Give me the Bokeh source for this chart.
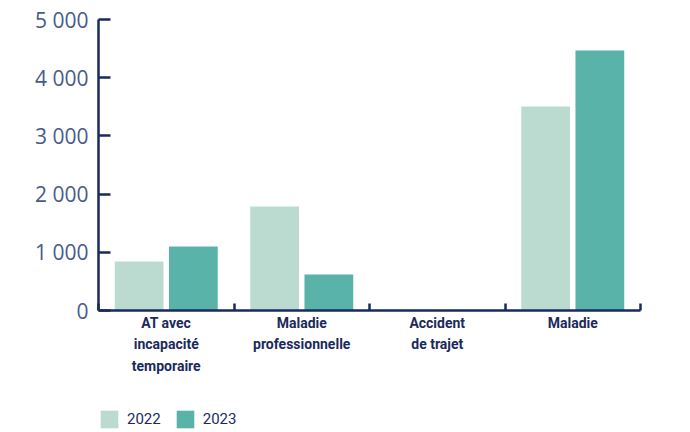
from bokeh.plotting import figure
from bokeh.layouts import column
from bokeh.models import (Range1d, FixedTicker, ColumnDataSource, Legend, LegendItem)
from bokeh.transform import dodge
from bokeh.embed import file_html
from bokeh.resources import INLINE

categories = ["AT avec\nincapacité\ntemporaire", "Maladie\nprofessionnelle",
              "Accident\nde trajet", "Maladie"]
values_2022 = [842, 1787, 12, 3505]
values_2023 = [1100, 619, 9, 4467]
y_ticks = [0, 1000, 2000, 3000, 4000, 5000]
y_tick_labels = ["0", "1 000", "2 000", "3 000", "4 000", "5 000"]
series_names = ["2022", "2023"]
colors = ["#BCDBD0", "#5AB3A8"]

NAVY = "#1b2a5c"
centers = [i + 0.5 for i in range(len(categories))]
bounds = list(range(len(categories) + 1))

src = ColumnDataSource(dict(x=centers, v2022=values_2022, v2023=values_2023))

p = figure(width=674, height=400, output_backend="svg", toolbar_location=None,
           x_range=Range1d(0, len(categories)), y_range=Range1d(0, 5000),
           min_border_left=98, min_border_right=34, min_border_top=19,
           min_border_bottom=90)
p.outline_line_color = None
p.grid.visible = False

p.vbar(x=dodge("x", -0.2, range=p.x_range), top="v2022", width=0.36,
       source=src, fill_color=colors[0], line_color=None)
p.vbar(x=dodge("x", 0.2, range=p.x_range), top="v2023", width=0.36,
       source=src, fill_color=colors[1], line_color=None)

xa = p.xaxis[0]
xa.ticker = FixedTicker(ticks=centers, minor_ticks=bounds)
xa.major_label_overrides = {c: lab for c, lab in zip(centers, categories)}
xa.major_tick_in = 0
xa.major_tick_out = 0
xa.minor_tick_in = 7
xa.minor_tick_out = 0
xa.minor_tick_line_color = NAVY
xa.minor_tick_line_width = 2.5
xa.axis_line_color = NAVY
xa.axis_line_width = 2.5
xa.major_label_text_font = "Roboto"
xa.major_label_text_font_style = "bold"
xa.major_label_text_font_size = "14px"
xa.major_label_text_color = NAVY
xa.major_label_standoff = 4
xa.major_label_text_line_height = 1.35

ya = p.yaxis[0]
ya.ticker = FixedTicker(ticks=y_ticks)
ya.major_label_overrides = {t: l for t, l in zip(y_ticks, y_tick_labels)}
ya.major_tick_in = 12
ya.major_tick_out = 0
ya.minor_tick_line_color = None
ya.major_tick_line_color = NAVY
ya.major_tick_line_width = 2.5
ya.axis_line_color = NAVY
ya.axis_line_width = 2.5
ya.major_label_text_font = "Open Sans"
ya.major_label_text_font_size = "21px"
ya.major_label_text_color = "#4a5a88"
ya.major_label_standoff = 10

# legend strip below the chart
p2 = figure(width=674, height=30, output_backend="svg", toolbar_location=None,
            x_range=Range1d(0, 1), y_range=Range1d(0, 1),
            x_axis_location=None, y_axis_location=None, min_border=0)
p2.outline_line_color = None
p2.grid.visible = False
l1 = p2.vbar(x="x", top=0, width=0.01, source=src,
             fill_color=colors[0], line_color=None)
l2 = p2.vbar(x="x", top=0, width=0.01, source=src,
             fill_color=colors[1], line_color=None)
legend = Legend(items=[LegendItem(label=series_names[0], renderers=[l1], index=0),
                       LegendItem(label=series_names[1], renderers=[l2], index=0)],
                orientation="horizontal", location=(0, 0),
                border_line_color=None, background_fill_alpha=0,
                glyph_width=22, glyph_height=22, label_standoff=7, spacing=13,
                padding=0, margin=0, label_height=22,
                label_text_font="Roboto",
                label_text_font_size="15px", label_text_color=NAVY)
p2.add_layout(legend)

layout = column(p, p2, spacing=0)
open("out.html", "w").write(file_html(layout, INLINE))
